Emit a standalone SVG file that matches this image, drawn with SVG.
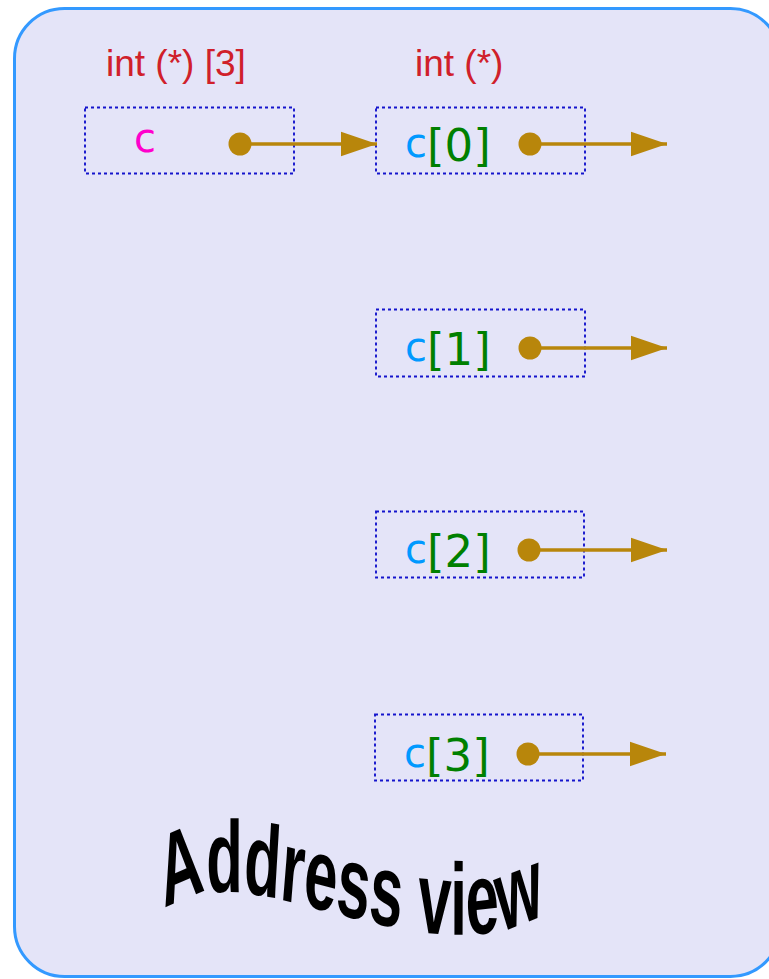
<svg xmlns="http://www.w3.org/2000/svg" width="769" height="979" viewBox="0 0 769 979">
  <style>
    .box { fill: none; stroke: #1414cc; stroke-width: 1.9; stroke-dasharray: 3 3; }
    .type { font-family: "Liberation Sans", Arial, sans-serif; font-size: 37px; fill: #d0202a; }
    .lbl { font-family: "DejaVu Sans", sans-serif; }
    .cb { fill: #0099ff; font-size: 40px; }
    .idx { fill: #008000; font-size: 45px; }
    .conn { stroke: #b8860b; stroke-width: 3.5; fill: none; marker-start: url(#dot); marker-end: url(#head); }
    .title { font-family: "Liberation Sans", Arial, sans-serif; font-weight: bold; font-size: 102px; fill: #000; }
  </style>
  <defs>
    <marker id="head" markerUnits="userSpaceOnUse" markerWidth="36" markerHeight="26" viewBox="0 0 34 24" refX="34" refY="12" orient="auto">
      <polygon points="0,0.5 34,12 0,23.5" fill="#b8860b"/>
    </marker>
    <marker id="dot" markerUnits="userSpaceOnUse" markerWidth="26" markerHeight="26" viewBox="0 0 26 26" refX="13" refY="13" orient="auto">
      <circle cx="13" cy="13" r="11.5" fill="#b8860b"/>
    </marker>
    <path id="wave" d="M282,912 C410,842 718,985 925,915"/>
  </defs>

  <rect id="frame" x="14.5" y="8.5" width="766" height="968" rx="50" ry="50" fill="#e4e4f8" stroke="#3399ff" stroke-width="3"/>

  <text class="type" x="106" y="76">int (*) [3]</text>
  <text class="type" x="415" y="76">int (*)</text>

  <g id="node-c">
    <rect class="box" x="85" y="107.5" width="209" height="66"/>
    <text class="lbl" x="134" y="152" font-size="40" fill="#ff00cc">c</text>
  </g>
  <g id="node-c0">
    <rect class="box" x="376" y="107.5" width="209" height="66"/>
    <text class="lbl" x="405" y="157"><tspan class="cb">c</tspan><tspan class="idx" dy="4">[0]</tspan></text>
  </g>
  <g id="node-c1">
    <rect class="box" x="376" y="309.5" width="209" height="67"/>
    <text class="lbl" x="405" y="361"><tspan class="cb">c</tspan><tspan class="idx" dy="4">[1]</tspan></text>
  </g>
  <g id="node-c2">
    <rect class="box" x="376" y="511.5" width="208" height="66"/>
    <text class="lbl" x="405" y="563"><tspan class="cb">c</tspan><tspan class="idx" dy="4">[2]</tspan></text>
  </g>
  <g id="node-c3">
    <rect class="box" x="375" y="714.5" width="208" height="66"/>
    <text class="lbl" x="404" y="767"><tspan class="cb">c</tspan><tspan class="idx" dy="4">[3]</tspan></text>
  </g>

  <g id="connectors">
    <path class="conn" d="M240,144 H377"/>
    <path class="conn" d="M530,144 H667"/>
    <path class="conn" d="M530,348 H667"/>
    <path class="conn" d="M529,550 H667"/>
    <path class="conn" d="M528,754 H666"/>
  </g>

  <g id="title" transform="scale(0.585,1)">
    <text class="title"><textPath href="#wave">Address view</textPath></text>
  </g>
</svg>
